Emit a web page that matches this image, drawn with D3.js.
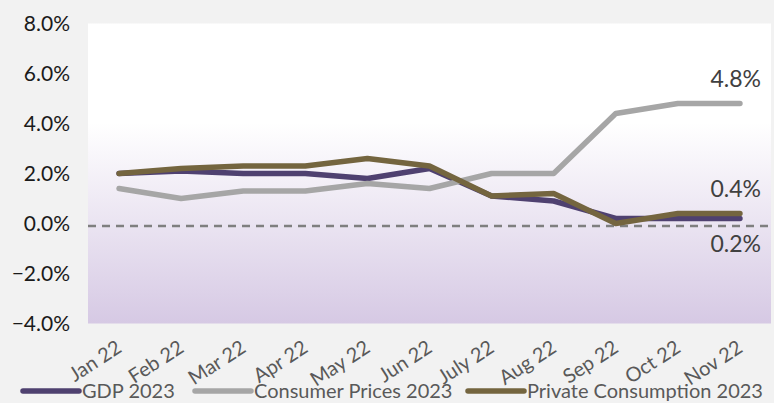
<!DOCTYPE html>
<html>
<head>
<meta charset="utf-8">
<script src="https://cdn.jsdelivr.net/npm/d3@7"></script>
<style>
  html, body { margin: 0; padding: 0; background: #f2f2f2; }
  svg { display: block; font-family: Lato, "Open Sans", sans-serif; }
</style>
</head>
<body>
<svg id="chart" width="774" height="403"></svg>
<script>
const months = ["Jan 22","Feb 22","Mar 22","Apr 22","May 22","Jun 22","July 22","Aug 22","Sep 22","Oct 22","Nov 22"];
const gdp = [2.0, 2.1, 2.0, 2.0, 1.8, 2.2, 1.1, 0.9, 0.2, 0.2, 0.2];
const cpi = [1.4, 1.0, 1.3, 1.3, 1.6, 1.4, 2.0, 2.0, 4.4, 4.8, 4.8];
const pc  = [2.0, 2.2, 2.3, 2.3, 2.6, 2.3, 1.1, 1.2, 0.0, 0.4, 0.4];
const yTicks = [-4, -2, 0, 2, 4, 6, 8];
const refValue = -0.1;
const seriesNames = ["GDP 2023", "Consumer Prices 2023", "Private Consumption 2023"];

const series = [
  { name: seriesNames[0], values: gdp, color: "#4f4170", label: "below" },
  { name: seriesNames[1], values: cpi, color: "#a6a6a6", label: "above" },
  { name: seriesNames[2], values: pc,  color: "#74653f", label: "above" }
];

const svg = d3.select("#chart");
const W = 774, H = 403;
const plot = { left: 88, right: 771, top: 23.5, bottom: 323.5 };

const x = d3.scalePoint().domain(months).range([plot.left, plot.right]).padding(0.5);
const y = d3.scaleLinear().domain([-4, 8]).range([plot.bottom, plot.top]);

const defs = svg.append("defs");
const grad = defs.append("linearGradient").attr("id", "bg").attr("x1", 0).attr("y1", 0).attr("x2", 0).attr("y2", 1);
grad.append("stop").attr("offset", "0%").attr("stop-color", "#ffffff");
grad.append("stop").attr("offset", "33%").attr("stop-color", "#ffffff");
grad.append("stop").attr("offset", "100%").attr("stop-color", "#d6c9e4");

svg.append("rect")
  .attr("x", plot.left).attr("y", plot.top)
  .attr("width", plot.right - plot.left).attr("height", plot.bottom - plot.top)
  .attr("fill", "url(#bg)");

// y axis labels
const yAxis = d3.axisLeft(y).tickValues(yTicks).tickFormat(d => d3.format(".1f")(d) + "%").tickSize(0).tickPadding(0);
const yg = svg.append("g").attr("transform", `translate(70,0)`).call(yAxis);
yg.select(".domain").remove();
yg.selectAll("text").attr("font-size", 21).attr("fill", "#1a1a1a").attr("font-family", "Lato, sans-serif");

// reference dashed line
svg.append("line")
  .attr("x1", plot.left).attr("x2", plot.right)
  .attr("y1", y(refValue)).attr("y2", y(refValue))
  .attr("stroke", "#7f7f7f").attr("stroke-width", 2.5).attr("stroke-dasharray", "8,6");

// lines
const line = d3.line().x((d, i) => x(months[i])).y(d => y(d));
series.forEach(s => {
  svg.append("path")
    .datum(s.values)
    .attr("d", line)
    .attr("fill", "none")
    .attr("stroke", s.color)
    .attr("stroke-width", 5.5)
    .attr("stroke-linejoin", "round")
    .attr("stroke-linecap", "round");
});

// end labels
series.forEach(s => {
  const last = s.values.length - 1;
  const v = s.values[last];
  svg.append("text")
    .attr("x", x(months[last]) + 21)
    .attr("y", y(v) + (s.label === "above" ? -25 : 25))
    .attr("dy", "0.35em")
    .attr("text-anchor", "end")
    .attr("font-size", 23)
    .attr("fill", "#404040")
    .text(d3.format(".1f")(v) + "%");
});

// x axis labels
const xg = svg.append("g");
xg.selectAll("text").data(months).join("text")
  .attr("transform", d => `translate(${x(d) + 4},351) rotate(-33)`)
  .attr("text-anchor", "end")
  .attr("font-size", 20)
  .attr("fill", "#595959")
  .text(d => d);

// legend
const legendItems = [
  { s: series[0], x0: 23 },
  { s: series[1], x0: 195 },
  { s: series[2], x0: 468 }
];
const lg = svg.append("g");
legendItems.forEach(it => {
  lg.append("line")
    .attr("x1", it.x0).attr("x2", it.x0 + 56)
    .attr("y1", 391).attr("y2", 391)
    .attr("stroke", it.s.color).attr("stroke-width", 5.5).attr("stroke-linecap", "round");
  lg.append("text")
    .attr("x", it.x0 + 59).attr("y", 391).attr("dy", "0.35em")
    .attr("font-size", 20).attr("fill", "#595959")
    .text(it.s.name);
});
</script>
</body>
</html>
